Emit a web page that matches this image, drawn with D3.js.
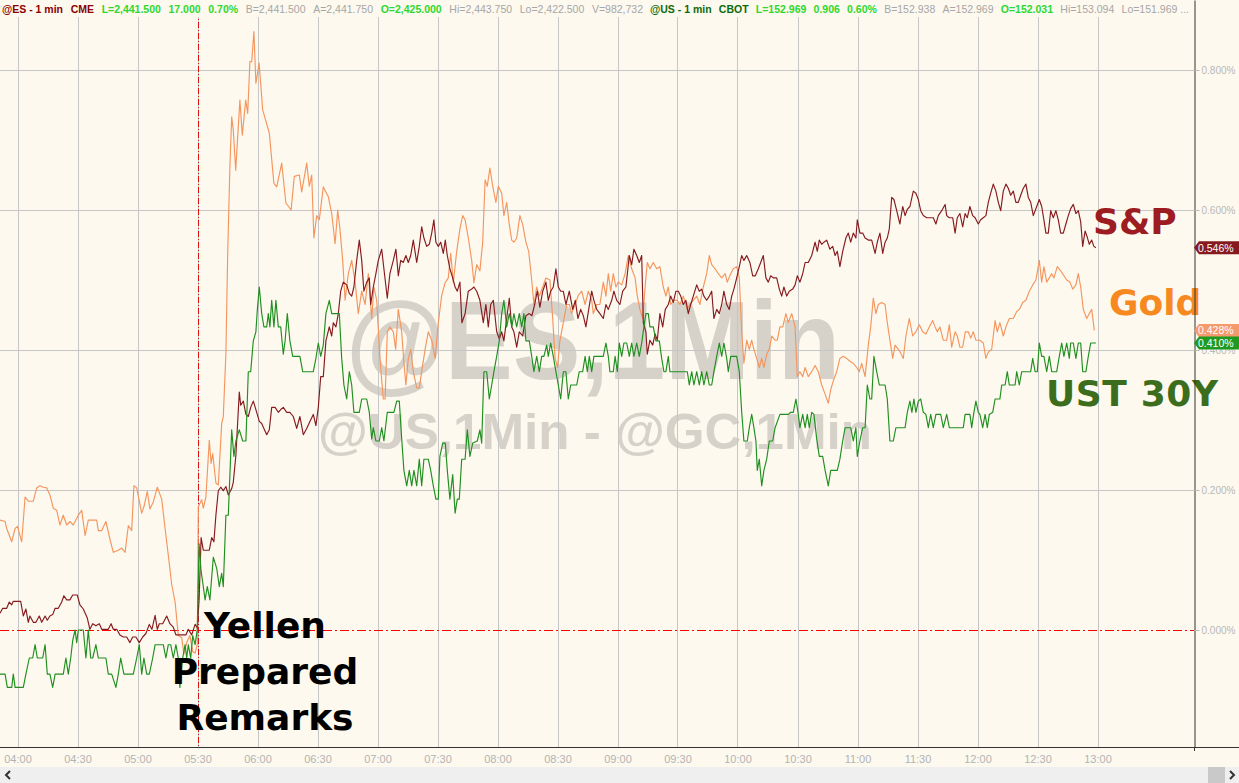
<!DOCTYPE html>
<html>
<head>
<meta charset="utf-8">
<script src="https://cdn.jsdelivr.net/npm/d3@7"></script>
<style>
  html, body { margin: 0; padding: 0; background: #fdf9ef; }
  svg { display: block; }
</style>
</head>
<body>
<svg id="chart" width="1239" height="783"></svg>
<script>
// ---------------- DATA ----------------
// time = minutes after 04:00, values = % change
const timeLabels = ["04:00","04:30","05:00","05:30","06:00","06:30","07:00","07:30","08:00","08:30","09:00","09:30","10:00","10:30","11:00","11:30","12:00","12:30","13:00"];
const yTickValues = [0, 0.2, 0.4, 0.6, 0.8];
const seriesNames = ["S&P", "Gold", "UST 30Y"];
const eventMinute = 90; // 05:30
const eventLabel = ["Yellen", "Prepared", "Remarks"];
const watermark = ["@ES,1Min", "@US,1Min - @GC,1Min"];

const headerES = ["@ES - 1 min","CME","L=2,441.500","17.000","0.70%","B=2,441.500","A=2,441.750","O=2,425.000","Hi=2,443.750","Lo=2,422.500","V=982,732"];
const headerESKind = ["es","es","up","up","up","mute","mute","up","mute","mute","mute"];
const headerUS = ["@US - 1 min","CBOT","L=152.969","0.906","0.60%","B=152.938","A=152.969","O=152.031","Hi=153.094","Lo=151.969 ..."];
const headerUSKind = ["us","us","up","up","up","mute","mute","up","mute","mute"];

const spT = [-8.75,-7.4,-5.4,-4.1,-2.9,-2.1,1.6,2.9,4.2,5.4,6.2,7.9,9.2,10.9,12.1,13.8,14.9,16.2,17.6,18.8,20.4,22.1,23.2,24.6,26.2,27.6,29.9,31.2,32.9,34.9,36.2,37.6,39.2,40.9,42.1,45.4,46.8,47.9,49.6,51.2,52.9,54.6,56.2,57.6,59.2,60.9,62.6,64.2,65.9,67.2,68.8,69.9,70.9,72.6,74.6,76.2,77.9,79.2,84.2,85.4,87.1,88.8,89.9,90.8,91.8,92.9,95.9,97.1,98.2,99.2,100.4,101.6,102.9,104.2,105.4,107.1,107.9,109.2,110.9,111.6,112.9,114.2,115.4,116.6,117.9,119.6,120.9,122.1,123.2,124.6,125.9,127.1,128.8,130.4,131.6,132.9,134.6,136.2,137.9,139.6,141.2,142.9,144.6,146.2,147.9,149.2,150.4,151.6,152.9,154.2,155.9,157.1,157.9,159.2,160.4,161.6,162.9,164.6,165.9,167.1,168.2,169.6,170.9,172.1,173.2,174.6,175.9,176.6,177.9,179.2,180.4,182.1,183.2,184.9,186.2,187.9,189.2,190.4,191.6,192.9,194.2,195.4,196.6,197.9,199.6,200.9,202.1,203.2,204.6,205.9,207.1,208.2,209.2,210.4,211.6,212.9,213.9,214.9,216.2,217.6,218.8,219.9,221.2,222.2,223.8,225.4,227.1,228.2,229.6,231.2,232.9,234.2,235.4,236.6,237.9,239.6,240.9,242.1,243.2,244.6,245.9,247.1,248.2,249.6,250.9,252.6,254.2,255.9,257.2,258.6,259.9,261.2,262.6,264.2,265.4,266.6,267.9,269.2,270.4,271.6,272.9,274.2,275.9,277.6,278.9,280.2,281.6,282.9,284.2,285.6,287.1,288.2,289.6,291.2,292.9,294.2,295.4,297.1,298.2,299.6,301.2,302.6,304.2,305.9,307.1,308.2,309.6,310.9,312.1,312.9,314.2,314.9,316.2,317.6,318.8,319.9,321.2,322.6,323.9,325.4,326.6,327.9,329.2,330.4,331.6,332.9,334.2,335.4,336.6,337.9,339.6,340.9,342.1,343.2,344.6,345.9,347.1,348.2,349.6,350.9,352.1,353.2,354.6,355.9,357.1,358.2,359.6,360.9,362.1,363.2,364.6,366.2,367.6,368.9,370.4,371.6,372.9,374.2,375.4,376.6,377.9,379.6,380.9,382.1,383.2,384.6,385.9,387.6,388.8,389.9,391.2,392.6,393.8,395.4,397.1,398.8,399.9,400.9,402.1,403.2,404.6,406.2,407.6,408.8,409.9,411.2,412.6,414.2,415.4,416.6,417.9,419.2,419.9,421.2,422.6,423.8,425.4,427.1,428.8,429.9,431.2,432.6,433.8,434.9,435.9,437.1,438.2,439.6,441.2,442.6,443.8,444.9,446.2,447.9,449.2,450.4,451.6,452.9,454.6,457.9,459.2,460.4,462.1,463.8,464.6,465.9,467.6,468.8,469.9,471.2,472.6,473.8,474.9,476.2,477.6,478.8,480.4,481.6,482.9,484.2,485.4,486.6,487.9,489.2,490.4,491.6,492.9,494.2,495.4,496.6,497.9,499.2,500.4,501.6,502.9,504.2,505.4,506.6,507.9,509.6,510.9,512.1,513.2,514.2,515.4,516.6,517.9,519.2,520.4,521.6,522.9,524.2,525.4,526.6,527.9,529.2,530.4,531.6,532.6,533.8,534.9,535.9,537.1,538.2,539.2];
const spV = [.024,.031,.031,.04,.036,.041,.041,.02,.03,.011,.02,.011,.011,.02,.011,.02,.014,.02,.022,.031,.031,.04,.049,.043,.043,.05,.05,.036,.03,.017,.001,.009,.006,.009,.001,.001,.009,.001,.001,-.007,-.01,-.01,-.018,-.01,-.01,-.018,-.01,-.005,.008,.001,.021,.001,.009,.009,.02,.009,.004,-.007,-.007,.001,-.007,.008,.003,.043,.132,.114,.114,.132,.126,.164,.199,.204,.199,.205,.193,.202,.211,.25,.34,.321,.327,.308,.305,.318,.327,.311,.298,.295,.288,.279,.286,.318,.318,.311,.315,.318,.311,.311,.305,.288,.305,.279,.288,.298,.308,.292,.318,.362,.362,.413,.433,.42,.439,.433,.452,.484,.497,.493,.481,.477,.49,.528,.557,.528,.484,.497,.503,.465,.49,.509,.528,.544,.516,.474,.509,.528,.544,.506,.528,.525,.535,.525,.535,.557,.525,.548,.576,.56,.548,.551,.567,.586,.554,.548,.554,.538,.557,.535,.516,.503,.49,.484,.497,.439,.452,.484,.487,.49,.484,.471,.439,.465,.433,.465,.471,.426,.416,.426,.413,.445,.474,.433,.426,.404,.426,.42,.449,.452,.449,.465,.484,.461,.484,.497,.471,.484,.49,.516,.49,.484,.484,.465,.484,.458,.471,.445,.458,.449,.433,.458,.484,.471,.458,.452,.445,.465,.458,.471,.484,.471,.465,.484,.49,.535,.522,.544,.535,.525,.535,.439,.426,.394,.414,.407,.423,.414,.452,.433,.458,.465,.477,.468,.484,.484,.477,.465,.471,.452,.465,.477,.493,.484,.487,.477,.471,.477,.484,.445,.458,.452,.465,.484,.465,.458,.477,.487,.503,.519,.535,.528,.535,.525,.506,.506,.516,.525,.535,.503,.497,.506,.503,.503,.487,.477,.49,.477,.484,.487,.493,.506,.497,.509,.525,.525,.535,.554,.541,.557,.551,.554,.557,.544,.548,.535,.541,.519,.541,.56,.567,.554,.567,.56,.586,.567,.567,.56,.557,.557,.538,.554,.567,.538,.554,.56,.573,.618,.615,.599,.58,.605,.592,.601,.605,.627,.624,.615,.599,.592,.589,.589,.58,.592,.599,.608,.592,.589,.589,.567,.589,.595,.576,.595,.589,.605,.592,.589,.58,.586,.589,.592,.611,.624,.637,.627,.611,.599,.627,.637,.631,.621,.627,.611,.611,.621,.631,.637,.618,.611,.592,.605,.615,.605,.586,.567,.567,.599,.589,.599,.586,.567,.567,.58,.592,.602,.608,.595,.599,.583,.548,.57,.561,.551,.557,.548,.546];

const goldT = [-8.75,-6.2,-5.4,-2.9,-1.2,0,2.1,3.8,5.4,7.9,9.6,11.2,12.9,14.6,16.2,17.9,19.6,21.2,22.9,24.6,26.2,27.9,30.4,32.1,33.8,35.4,39.6,40.4,42.1,44.2,46.2,47.9,50.4,52.1,53.8,55.4,57.1,58.2,59.6,62.1,63.2,64.9,66.2,67.9,69.9,72.1,73.8,75.4,77.1,78.8,80.4,82.1,83.2,84.6,86.2,87.6,88.8,89.9,90.4,92.1,92.9,94.2,95.9,96.8,97.6,99.2,100.4,102.1,102.9,104.2,105.1,106.2,107.1,107.9,109.1,111.2,112.4,114.1,115.1,116.2,117.1,118.2,119.2,120.8,122.6,125.9,128.2,129.6,132.1,134.2,136.8,138.4,140.9,142.1,144.6,145.9,147.1,148.2,149.6,150.9,152.9,155.4,157.1,158.8,160.1,161.2,162.6,163.8,165.4,167.1,168.8,170.4,172.1,173.8,175.4,177.1,178.2,179.6,181.2,182.9,183.8,184.9,186.2,187.9,189.1,190.4,192.1,193.2,194.2,195.4,196.6,197.9,199.6,200.9,202.1,203.8,205.4,207.1,208.8,210.4,212.1,213.8,215.4,216.6,217.9,219.6,221.2,222.6,223.8,225.4,227.1,228.2,229.6,231.2,232.6,233.8,234.9,236.2,237.6,239.2,240.4,242.1,243.2,244.6,245.9,247.1,248.2,249.6,251.2,252.6,254.2,255.6,257.1,258.2,259.6,260.9,262.6,264.2,266.2,267.6,268.8,270,271.2,272.9,274.6,275.9,277.1,278.8,280.4,282.1,283.8,285.4,287.1,287.9,289.6,291.2,292.9,294.2,295.4,296.6,297.9,299.2,300.4,302.1,303.8,305.4,307.1,308.8,309.9,311.2,312.6,313.8,314.9,316.2,317.9,319.6,321.2,322.9,324.2,325.4,326.6,328.2,329.9,331.2,332.9,334.9,336.2,337.9,339.6,341.2,342.9,344.6,345.9,347.1,348.8,350.4,352.1,353.8,354.9,356.6,357.9,359.6,360.9,362.1,363.2,364.6,365.9,367.1,368.2,369.6,370.9,372.1,373.2,374.6,375.9,377.1,378.8,379.9,381.2,382.6,384.2,385.4,387.1,388.8,389.9,391.2,392.6,393.8,395.4,397.1,398.8,400.4,402.1,403.8,405.4,406.6,407.9,409.6,411.2,412.9,414.6,416.2,417.9,419.6,420.9,422.1,423.8,425.4,426.6,427.9,429.2,430.4,432.1,433.8,434.9,436.2,437.6,438.8,440.4,441.2,442.9,444.2,445.9,447.6,449.2,450.9,452.6,454.2,455.9,457.6,458.8,459.9,461.2,462.9,464.6,465.9,467.1,468.8,469.9,471.2,472.6,473.9,475.4,476.6,477.9,479.2,481.2,482.9,484.2,485.4,487.1,488.8,489.9,491.2,492.9,494.2,495.9,497.9,499.6,500.9,502.6,504.2,505.9,507.6,509.2,510.9,512.1,513.2,514.6,515.9,517.1,518.2,519.9,521.6,523.2,524.6,526.2,527.6,529.2,530.4,531.6,532.9,534.6,535.9,537.1,538.4];
const goldV = [.157,.155,.145,.126,.145,.148,.126,.19,.184,.184,.203,.206,.204,.203,.193,.174,.171,.15,.164,.15,.155,.15,.164,.171,.135,.157,.157,.142,.142,.155,.13,.111,.114,.117,.111,.149,.142,.206,.203,.167,.176,.198,.173,.183,.204,.187,.145,.107,.065,.04,-.008,-.011,-.034,-.018,-.008,-.031,-.033,-.021,.176,.186,.174,.19,.271,.238,.252,.21,.207,.295,.305,.395,.538,.662,.733,.714,.657,.757,.707,.757,.738,.812,.812,.855,.781,.81,.743,.71,.638,.633,.667,.61,.60,.648,.65,.626,.667,.634,.65,.56,.592,.586,.633,.619,.595,.552,.60,.573,.528,.471,.509,.528,.497,.452,.484,.465,.509,.445,.49,.471,.388,.33,.33,.426,.433,.426,.401,.458,.426,.382,.35,.388,.401,.369,.346,.346,.369,.401,.426,.414,.388,.439,.478,.496,.503,.538,.496,.541,.573,.592,.586,.56,.528,.496,.522,.513,.554,.643,.634,.66,.634,.611,.634,.624,.592,.611,.579,.557,.554,.56,.592,.579,.554,.541,.5,.465,.49,.477,.49,.503,.5,.445,.388,.375,.413,.439,.465,.465,.452,.465,.478,.484,.465,.484,.471,.452,.465,.465,.497,.477,.509,.484,.509,.49,.497,.493,.509,.535,.516,.503,.477,.458,.445,.49,.525,.516,.525,.516,.519,.49,.477,.49,.465,.471,.471,.465,.477,.458,.465,.471,.477,.465,.49,.509,.535,.522,.516,.509,.503,.509,.497,.509,.516,.519,.503,.426,.381,.414,.401,.414,.401,.388,.375,.388,.375,.394,.401,.42,.414,.414,.433,.433,.452,.439,.452,.433,.362,.369,.362,.375,.362,.369,.378,.369,.35,.337,.324,.343,.356,.369,.388,.391,.388,.384,.381,.375,.369,.381,.362,.407,.433,.474,.452,.465,.468,.465,.439,.414,.388,.407,.401,.398,.388,.42,.445,.42,.426,.436,.426,.423,.433,.442,.433,.426,.433,.414,.414,.436,.404,.426,.42,.404,.404,.426,.426,.417,.426,.414,.414,.41,.388,.397,.401,.442,.426,.439,.42,.433,.445,.445,.455,.458,.468,.471,.484,.493,.5,.528,.497,.519,.497,.503,.509,.503,.519,.513,.506,.5,.497,.487,.493,.509,.49,.458,.445,.452,.458,.428];

const ustT = [-8.75,-6.2,-5.1,-2.9,-2.1,-1.2,2.9,4.2,5.9,7.6,8.8,9.9,12.6,13.8,14.9,16.2,17.6,18.8,22.9,24.2,25.4,26.6,27.6,28.8,29.6,30.4,32.9,34.2,35.4,36.6,37.6,39.2,40.4,44.2,45.4,47.1,49.2,50.4,51.6,53.2,57.9,59.6,60.9,62.1,63.2,64.6,65.9,67.6,68.8,72.9,74.2,75.4,76.6,77.9,79.2,80.4,81.2,82.6,83.8,84.6,85.4,86.6,87.6,88.8,89.9,90.8,91.8,92.9,93.8,94.9,96.2,97.9,99.6,100.9,102.1,102.9,104.2,105.4,107.1,108.2,109.2,110.9,112.6,114.2,115.4,116.6,117.9,119.2,119.9,120.9,122.1,123.2,124.6,125.4,126.2,127.1,128.2,129.2,130.4,131.6,132.9,133.8,134.9,136.2,137.6,141.2,142.6,147.9,149.2,150.4,151.6,152.9,154.2,155.9,157.1,160.9,162.1,163.2,164.6,165.9,167.1,168.2,170.9,172.1,174.6,175.9,177.1,177.9,179.2,180.9,182.1,183.2,184.9,188.2,189.6,190.9,192.1,193.2,194.6,195.9,197.1,198.2,199.6,200.9,202.1,203.2,205.4,206.6,207.9,209.2,210.4,211.2,212.6,213.9,214.9,216.2,217.6,218.8,219.9,220.9,222.1,223.8,224.9,226.2,227.6,229.9,231.2,232.1,233.2,234.6,235.9,237.1,238.2,239.6,240.9,242.1,243.2,244.6,245.9,247.2,248.2,249.6,250.9,252.1,253.2,254.2,255.9,257.1,258.2,259.6,260.9,262.1,263.2,264.6,265.4,266.6,267.9,269.2,270.4,271.6,272.9,274.2,275.4,276.6,279.6,280.9,282.6,283.8,284.9,285.9,287.1,288.2,292.9,294.2,295.4,296.2,297.9,298.8,299.9,300.9,302.1,303.2,304.6,305.9,307.1,308.2,309.6,310.9,312.1,313.2,314.2,315.4,316.2,317.9,319.2,320.9,322.1,323.2,324.2,325.4,326.2,334.9,335.9,337.1,338.2,339.6,340.9,342.1,343.2,344.6,345.9,347.1,348.2,349.6,350.9,352.1,353.2,354.6,355.4,356.6,359.6,360.9,362.1,363.2,364.9,365.9,367.1,368.2,369.2,369.9,370.9,372.1,373.2,374.6,375.9,377.6,378.8,381.2,385.4,386.6,387.9,389.2,390.4,391.2,392.6,393.8,394.9,395.9,397.1,398.2,399.6,400.9,402.6,403.8,405.4,406.6,409.9,411.2,412.6,413.8,416.6,417.9,419.2,419.9,421.2,422.6,423.8,424.9,426.2,427.1,428.2,429.6,430.9,433.8,434.9,436.2,437.9,439.2,443.8,444.9,446.2,447.2,448.2,449.2,450.4,451.6,452.9,454.2,455.4,456.6,457.9,459.2,461.6,462.9,464.6,465.9,472.9,473.8,476.2,477.1,478.2,479.2,480.4,481.2,482.6,483.8,484.9,485.9,487.6,488.8,491.2,492.1,493.8,494.9,495.9,498.8,499.6,500.9,502.1,506.6,507.6,508.8,509.9,510.9,512.1,513.2,514.6,515.9,517.1,519.6,520.9,522.1,523.2,524.6,525.9,526.6,527.9,529.2,530.4,531.6,532.6,534.2,535.4,536.6,539.2];
const ustV = [-.063,-.063,-.082,-.082,-.063,-.082,-.082,-.063,-.04,-.04,-.021,-.04,-.04,-.021,-.063,-.063,-.082,-.063,-.063,-.04,-.063,-.04,-.015,0,-.018,0,0,-.04,0,-.04,-.04,-.021,-.04,-.04,-.063,-.063,-.082,-.063,-.04,-.063,-.063,-.04,-.021,-.063,-.04,-.063,-.063,-.04,-.021,-.021,-.04,-.021,-.021,-.04,-.021,-.04,-.082,-.04,-.021,-.04,-.021,-.04,-.008,-.021,.001,.123,.084,.062,.043,.062,.043,.104,.088,.062,.081,.062,.164,.164,.286,.248,.27,.286,.27,.27,.369,.369,.413,.426,.457,.49,.452,.433,.433,.452,.433,.471,.433,.471,.433,.433,.394,.413,.452,.413,.391,.391,.369,.369,.388,.41,.391,.407,.452,.471,.452,.452,.388,.35,.33,.369,.35,.311,.311,.33,.33,.311,.273,.289,.27,.27,.289,.27,.311,.311,.327,.327,.273,.228,.206,.228,.206,.228,.206,.244,.206,.244,.244,.228,.206,.187,.187,.248,.267,.267,.228,.187,.222,.167,.187,.187,.244,.244,.286,.248,.267,.27,.286,.267,.369,.369,.33,.35,.369,.391,.413,.452,.471,.433,.452,.433,.452,.433,.452,.433,.452,.413,.413,.391,.369,.391,.369,.391,.391,.407,.391,.41,.391,.369,.35,.33,.369,.369,.33,.35,.35,.369,.369,.391,.369,.391,.369,.391,.391,.41,.391,.369,.369,.391,.369,.41,.391,.41,.41,.391,.41,.391,.41,.391,.41,.433,.452,.452,.433,.433,.413,.413,.388,.369,.369,.391,.369,.369,.35,.369,.35,.369,.35,.369,.35,.369,.35,.35,.369,.391,.41,.391,.41,.388,.369,.391,.391,.369,.311,.27,.27,.289,.308,.289,.27,.228,.244,.206,.228,.244,.27,.27,.289,.308,.308,.311,.311,.33,.308,.289,.308,.289,.308,.289,.311,.308,.273,.248,.248,.228,.206,.228,.228,.244,.27,.289,.289,.27,.289,.248,.27,.289,.289,.35,.33,.33,.391,.369,.35,.35,.33,.27,.27,.289,.289,.311,.327,.311,.33,.311,.327,.33,.311,.308,.289,.308,.289,.308,.308,.289,.308,.289,.289,.308,.308,.289,.311,.327,.311,.308,.289,.308,.289,.308,.311,.33,.33,.35,.35,.369,.35,.35,.369,.35,.369,.369,.388,.369,.369,.41,.391,.391,.369,.391,.369,.369,.391,.41,.391,.41,.388,.41,.41,.388,.41,.41,.369,.369,.391,.41,.41];

// ---------------- LAYOUT / STYLE ----------------
const W = 1239, H = 783;
const plotRight = 1194, plotBottom = 747;
const colors = { sp: "#861a1e", gold: "#f5955e", ust: "#1f8f1f",
                 spLabel: "#9c1c22", goldLabel: "#f6891f", ustLabel: "#3c6d1c" };
const headerColors = { es: "#8b0000", us: "#0b6a0b", up: "#2ed82e", mute: "#a6a6a6" };
const headerSpans = [[2, 643], [650, 1189]];

const svg = d3.select("#chart");
const x = d3.scaleLinear().domain([-8.75, 588.25]).range([0, plotRight]);
const y = d3.scaleLinear().domain([-0.16714, 0.9]).range([plotBottom, 0]);

// background
svg.append("rect").attr("width", W).attr("height", H).attr("fill", "#fdf9ef");

// watermark
const wm = svg.append("g").attr("font-family", "Liberation Sans, Arial, sans-serif").attr("font-weight", "bold").attr("fill", "#d6d2ca");
wm.append("text").attr("x", 346).attr("y", 379).attr("font-size", 112)
  .attr("textLength", 494).attr("lengthAdjust", "spacingAndGlyphs").text(watermark[0]);
wm.append("text").attr("x", 318).attr("y", 449).attr("font-size", 50)
  .attr("textLength", 554).attr("lengthAdjust", "spacingAndGlyphs").text(watermark[1]);

// grid
const tickMinutes = timeLabels.map((d, i) => i * 30);
const grid = svg.append("g").attr("stroke", "#c6c6c6").attr("stroke-width", 1).attr("shape-rendering", "crispEdges");
grid.selectAll("line.v").data(tickMinutes).join("line").attr("class", "v")
  .attr("x1", d => Math.round(x(d)) + 0.5).attr("x2", d => Math.round(x(d)) + 0.5)
  .attr("y1", 0).attr("y2", plotBottom);
grid.selectAll("line.h").data(yTickValues.filter(d => d !== 0)).join("line").attr("class", "h")
  .attr("x1", 0).attr("x2", plotRight)
  .attr("y1", d => Math.round(y(d)) + 0.5).attr("y2", d => Math.round(y(d)) + 0.5);

// zero line and event line
svg.append("line").attr("x1", 0).attr("x2", plotRight)
  .attr("y1", Math.round(y(0)) + 0.5).attr("y2", Math.round(y(0)) + 0.5)
  .attr("stroke", "#ff0000").attr("stroke-width", 1).attr("stroke-dasharray", "9,3,2,3");
svg.append("line").attr("x1", Math.round(x(eventMinute)) + 0.5).attr("x2", Math.round(x(eventMinute)) + 0.5)
  .attr("y1", 0).attr("y2", plotBottom)
  .attr("stroke", "#e01010").attr("stroke-width", 1).attr("stroke-dasharray", "6,2,1,2");

// series
const line = d3.line().x(d => x(d[0])).y(d => y(d[1]));
const zip = (t, v) => t.map((d, i) => [d, v[i]]);
const series = [
  { key: "gold", data: zip(goldT, goldV), color: colors.gold },
  { key: "sp", data: zip(spT, spV), color: colors.sp },
  { key: "ust", data: zip(ustT, ustV), color: colors.ust }
];
svg.append("g").selectAll("path").data(series).join("path")
  .attr("d", d => line(d.data)).attr("fill", "none")
  .attr("stroke", d => d.color).attr("stroke-width", 1.15).attr("stroke-linejoin", "round");

// big series labels
const lab = svg.append("g").attr("font-family", "DejaVu Sans, Verdana, sans-serif").attr("font-weight", "bold").attr("font-size", 36);
lab.append("text").attr("x", 1093).attr("y", 234).attr("fill", colors.spLabel).text(seriesNames[0]);
lab.append("text").attr("x", 1109).attr("y", 315).attr("fill", colors.goldLabel).text(seriesNames[1]);
lab.append("text").attr("x", 1046).attr("y", 406).attr("fill", colors.ustLabel).text(seriesNames[2])
  .attr("textLength", 172).attr("lengthAdjust", "spacing");

// event annotation
const ev = svg.append("g").attr("font-family", "DejaVu Sans, Verdana, sans-serif").attr("font-weight", "bold")
  .attr("font-size", 36).attr("fill", "#000").attr("text-anchor", "middle");
eventLabel.forEach((t, i) => ev.append("text").attr("x", 265).attr("y", 638 + i * 46).text(t));

// header: tokens laid out evenly across each group's span
svg.append("rect").attr("x", 0).attr("y", 0).attr("width", plotRight).attr("height", 17).attr("fill", "#fdf9ef");
const hdr = svg.append("g").attr("font-family", "Liberation Sans, Arial, sans-serif").attr("font-size", 10.5);
[[headerES, headerESKind], [headerUS, headerUSKind]].forEach(([texts, kinds], gi) => {
  const nodes = texts.map((t, i) => hdr.append("text").attr("y", 13)
    .attr("fill", headerColors[kinds[i]]).attr("font-weight", kinds[i] === "mute" ? "normal" : "bold").text(t));
  const widths = nodes.map(n => n.node().getComputedTextLength());
  const [s, e] = headerSpans[gi];
  const gap = (e - s - d3.sum(widths)) / (texts.length - 1);
  let cx = s;
  nodes.forEach((n, i) => { n.attr("x", cx); cx += widths[i] + gap; });
});

// scrollbar strip
svg.append("rect").attr("x", 0).attr("y", 767).attr("width", W).attr("height", 16).attr("fill", "#efefef");
svg.append("rect").attr("x", 1208).attr("y", 767).attr("width", 17).attr("height", 16).attr("fill", "#c9c9c9");
svg.append("path").attr("d", "M10,771 L6,775 L10,779").attr("fill", "none").attr("stroke", "#333").attr("stroke-width", 2);
svg.append("path").attr("d", "M1230,771 L1234,775 L1230,779").attr("fill", "none").attr("stroke", "#333").attr("stroke-width", 2);

// x axis
const xAxis = d3.axisBottom(x).tickValues(tickMinutes).tickFormat((d, i) => timeLabels[i]).tickSize(0).tickPadding(8);
const gx = svg.append("g").attr("transform", `translate(0,${plotBottom})`).call(xAxis);
gx.select(".domain").remove();
gx.selectAll("text").attr("fill", "#b3b3b3").attr("font-size", 11).attr("font-family", "Liberation Sans, Arial, sans-serif");
svg.append("line").attr("x1", 0).attr("x2", W).attr("y1", plotBottom + 0.5).attr("y2", plotBottom + 0.5)
  .attr("stroke", "#333").attr("stroke-width", 1);

// y axis (right)
const yAxis = d3.axisRight(y).tickValues(yTickValues).tickFormat(d => d.toFixed(3) + "%").tickSize(5).tickSizeOuter(0).tickPadding(2);
const gy = svg.append("g").attr("transform", `translate(${plotRight + 0.5},0)`).call(yAxis);
gy.select(".domain").attr("stroke", "#333");
gy.selectAll(".tick line").attr("stroke", "#b8b8b8");
gy.selectAll("text").attr("fill", "#b8b8b8").attr("font-size", 10).attr("font-family", "Liberation Sans, Arial, sans-serif");
svg.append("line").attr("x1", plotRight + 0.5).attr("x2", plotRight + 0.5).attr("y1", plotBottom).attr("y2", plotBottom + 4).attr("stroke", "#333");

// last value tags
const tags = [
  { v: spV[spV.length - 1], bg: "#861a1e" },
  { v: goldV[goldV.length - 1], bg: "#f59a6c" },
  { v: ustV[ustV.length - 1], bg: "#1f9a1f" }
];
const tg = svg.append("g");
tags.forEach(t => {
  const yc = y(t.v);
  tg.append("path").attr("d", `M${plotRight},${yc} L${plotRight + 5},${yc - 6.5} L${W},${yc - 6.5} L${W},${yc + 6.5} L${plotRight + 5},${yc + 6.5} Z`)
    .attr("fill", t.bg);
  tg.append("text").attr("x", plotRight + 4).attr("y", yc + 4).attr("fill", "#fff")
    .attr("font-size", 10.5).attr("font-family", "Liberation Sans, Arial, sans-serif").text(t.v.toFixed(3) + "%");
});
</script>
</body>
</html>
